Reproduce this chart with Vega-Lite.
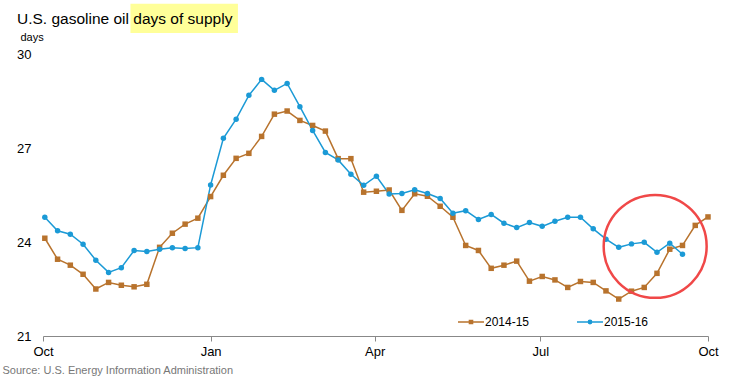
{
  "$schema": "https://vega.github.io/schema/vega-lite/v6.json",
  "width": 665,
  "height": 282,
  "autosize": {"type": "none"},
  "padding": {"left": 43, "top": 54, "right": 26, "bottom": 47},
  "background": "white",
  "config": {"font": "Liberation Sans", "view": {"stroke": null}},
  "title": {
    "text": "U.S. gasoline oil days of supply",
    "anchor": "start",
    "frame": "group",
    "dx": -26,
    "offset": -36,
    "baseline": "alphabetic",
    "fontSize": 15.5,
    "fontWeight": "normal",
    "color": "#000000"
  },
  "data": {
    "values": [
      {"week": "2014-10-02", "season": "2014-15", "days": 24.12},
      {"week": "2014-10-09", "season": "2014-15", "days": 23.45},
      {"week": "2014-10-16", "season": "2014-15", "days": 23.26},
      {"week": "2014-10-23", "season": "2014-15", "days": 22.97},
      {"week": "2014-10-30", "season": "2014-15", "days": 22.50},
      {"week": "2014-11-06", "season": "2014-15", "days": 22.71},
      {"week": "2014-11-13", "season": "2014-15", "days": 22.62},
      {"week": "2014-11-20", "season": "2014-15", "days": 22.57},
      {"week": "2014-11-27", "season": "2014-15", "days": 22.65},
      {"week": "2014-12-04", "season": "2014-15", "days": 23.83},
      {"week": "2014-12-11", "season": "2014-15", "days": 24.28},
      {"week": "2014-12-18", "season": "2014-15", "days": 24.57},
      {"week": "2014-12-25", "season": "2014-15", "days": 24.76},
      {"week": "2015-01-01", "season": "2014-15", "days": 25.45},
      {"week": "2015-01-08", "season": "2014-15", "days": 26.13},
      {"week": "2015-01-15", "season": "2014-15", "days": 26.67},
      {"week": "2015-01-22", "season": "2014-15", "days": 26.83},
      {"week": "2015-01-29", "season": "2014-15", "days": 27.37},
      {"week": "2015-02-05", "season": "2014-15", "days": 28.08},
      {"week": "2015-02-12", "season": "2014-15", "days": 28.18},
      {"week": "2015-02-19", "season": "2014-15", "days": 27.88},
      {"week": "2015-02-26", "season": "2014-15", "days": 27.72},
      {"week": "2015-03-05", "season": "2014-15", "days": 27.54},
      {"week": "2015-03-12", "season": "2014-15", "days": 26.66},
      {"week": "2015-03-19", "season": "2014-15", "days": 26.66},
      {"week": "2015-03-26", "season": "2014-15", "days": 25.59},
      {"week": "2015-04-02", "season": "2014-15", "days": 25.62},
      {"week": "2015-04-09", "season": "2014-15", "days": 25.66},
      {"week": "2015-04-16", "season": "2014-15", "days": 25.01},
      {"week": "2015-04-23", "season": "2014-15", "days": 25.54},
      {"week": "2015-04-30", "season": "2014-15", "days": 25.46},
      {"week": "2015-05-07", "season": "2014-15", "days": 25.14},
      {"week": "2015-05-14", "season": "2014-15", "days": 24.79},
      {"week": "2015-05-21", "season": "2014-15", "days": 23.89},
      {"week": "2015-05-28", "season": "2014-15", "days": 23.73},
      {"week": "2015-06-04", "season": "2014-15", "days": 23.16},
      {"week": "2015-06-11", "season": "2014-15", "days": 23.26},
      {"week": "2015-06-18", "season": "2014-15", "days": 23.39},
      {"week": "2015-06-25", "season": "2014-15", "days": 22.75},
      {"week": "2015-07-02", "season": "2014-15", "days": 22.90},
      {"week": "2015-07-09", "season": "2014-15", "days": 22.79},
      {"week": "2015-07-16", "season": "2014-15", "days": 22.55},
      {"week": "2015-07-23", "season": "2014-15", "days": 22.74},
      {"week": "2015-07-30", "season": "2014-15", "days": 22.71},
      {"week": "2015-08-06", "season": "2014-15", "days": 22.44},
      {"week": "2015-08-13", "season": "2014-15", "days": 22.18},
      {"week": "2015-08-20", "season": "2014-15", "days": 22.43},
      {"week": "2015-08-27", "season": "2014-15", "days": 22.55},
      {"week": "2015-09-03", "season": "2014-15", "days": 23.00},
      {"week": "2015-09-10", "season": "2014-15", "days": 23.77},
      {"week": "2015-09-17", "season": "2014-15", "days": 23.89},
      {"week": "2015-09-24", "season": "2014-15", "days": 24.53},
      {"week": "2015-10-01", "season": "2014-15", "days": 24.80},
      {"week": "2014-10-02", "season": "2015-16", "days": 24.79},
      {"week": "2014-10-09", "season": "2015-16", "days": 24.36},
      {"week": "2014-10-16", "season": "2015-16", "days": 24.25},
      {"week": "2014-10-23", "season": "2015-16", "days": 23.93},
      {"week": "2014-10-30", "season": "2015-16", "days": 23.42},
      {"week": "2014-11-06", "season": "2015-16", "days": 23.03},
      {"week": "2014-11-13", "season": "2015-16", "days": 23.18},
      {"week": "2014-11-20", "season": "2015-16", "days": 23.73},
      {"week": "2014-11-27", "season": "2015-16", "days": 23.70},
      {"week": "2014-12-04", "season": "2015-16", "days": 23.77},
      {"week": "2014-12-11", "season": "2015-16", "days": 23.82},
      {"week": "2014-12-18", "season": "2015-16", "days": 23.79},
      {"week": "2014-12-25", "season": "2015-16", "days": 23.82},
      {"week": "2015-01-01", "season": "2015-16", "days": 25.82},
      {"week": "2015-01-08", "season": "2015-16", "days": 27.31},
      {"week": "2015-01-15", "season": "2015-16", "days": 27.92},
      {"week": "2015-01-22", "season": "2015-16", "days": 28.68},
      {"week": "2015-01-29", "season": "2015-16", "days": 29.19},
      {"week": "2015-02-05", "season": "2015-16", "days": 28.84},
      {"week": "2015-02-12", "season": "2015-16", "days": 29.06},
      {"week": "2015-02-19", "season": "2015-16", "days": 28.32},
      {"week": "2015-02-26", "season": "2015-16", "days": 27.56},
      {"week": "2015-03-05", "season": "2015-16", "days": 26.86},
      {"week": "2015-03-12", "season": "2015-16", "days": 26.62},
      {"week": "2015-03-19", "season": "2015-16", "days": 26.16},
      {"week": "2015-03-26", "season": "2015-16", "days": 25.81},
      {"week": "2015-04-02", "season": "2015-16", "days": 26.10},
      {"week": "2015-04-09", "season": "2015-16", "days": 25.53},
      {"week": "2015-04-16", "season": "2015-16", "days": 25.55},
      {"week": "2015-04-23", "season": "2015-16", "days": 25.67},
      {"week": "2015-04-30", "season": "2015-16", "days": 25.55},
      {"week": "2015-05-07", "season": "2015-16", "days": 25.39},
      {"week": "2015-05-14", "season": "2015-16", "days": 24.92},
      {"week": "2015-05-21", "season": "2015-16", "days": 25.00},
      {"week": "2015-05-28", "season": "2015-16", "days": 24.72},
      {"week": "2015-06-04", "season": "2015-16", "days": 24.88},
      {"week": "2015-06-11", "season": "2015-16", "days": 24.60},
      {"week": "2015-06-18", "season": "2015-16", "days": 24.46},
      {"week": "2015-06-25", "season": "2015-16", "days": 24.62},
      {"week": "2015-07-02", "season": "2015-16", "days": 24.50},
      {"week": "2015-07-09", "season": "2015-16", "days": 24.66},
      {"week": "2015-07-16", "season": "2015-16", "days": 24.79},
      {"week": "2015-07-23", "season": "2015-16", "days": 24.79},
      {"week": "2015-07-30", "season": "2015-16", "days": 24.42},
      {"week": "2015-08-06", "season": "2015-16", "days": 24.09},
      {"week": "2015-08-13", "season": "2015-16", "days": 23.83},
      {"week": "2015-08-20", "season": "2015-16", "days": 23.94},
      {"week": "2015-08-27", "season": "2015-16", "days": 23.99},
      {"week": "2015-09-03", "season": "2015-16", "days": 23.67},
      {"week": "2015-09-10", "season": "2015-16", "days": 23.96},
      {"week": "2015-09-17", "season": "2015-16", "days": 23.61}
    ]
  },
  "layer": [
    {
      "data": {"values": [{}]},
      "mark": {"type": "rect", "color": "#FFFF99"},
      "encoding": {
        "x": {"datum": {"year": 2014, "month": "nov", "date": 18, "utc": true}, "type": "temporal"},
        "x2": {"datum": {"year": 2015, "month": "jan", "date": 16, "utc": true}},
        "y": {"datum": 31.6, "type": "quantitative"},
        "y2": {"datum": 30.67}
      }
    },
    {
      "mark": {"type": "line", "strokeWidth": 1.5},
      "encoding": {
        "x": {
          "field": "week",
          "type": "temporal",
          "scale": {
            "type": "utc",
            "domain": [
              {"year": 2014, "month": "oct", "date": 1, "utc": true},
              {"year": 2015, "month": "oct", "date": 1, "utc": true}
            ]
          },
          "axis": {
            "values": [
              {"year": 2014, "month": "oct", "date": 1, "utc": true},
              {"year": 2015, "month": "jan", "date": 1, "utc": true},
              {"year": 2015, "month": "apr", "date": 1, "utc": true},
              {"year": 2015, "month": "jul", "date": 1, "utc": true},
              {"year": 2015, "month": "oct", "date": 1, "utc": true}
            ],
            "labelExpr": "utcFormat(datum.value, '%b')",
            "labelFontSize": 13,
            "labelColor": "#000000",
            "labelPadding": 4,
            "labelFlush": false,
            "labelOverlap": false,
            "tickSize": 5,
            "tickColor": "#888888",
            "domainColor": "#888888",
            "grid": false,
            "title": "Source: U.S. Energy Information Administration",
            "titleAnchor": "start",
            "titleAlign": "left",
            "titleBaseline": "alphabetic",
            "titleX": -41,
            "titleY": 37,
            "titleFontSize": 11,
            "titleFontWeight": "normal",
            "titleColor": "#777777"
          }
        },
        "y": {
          "field": "days",
          "type": "quantitative",
          "scale": {"domain": [21, 30], "nice": false, "zero": false},
          "axis": {
            "values": [21, 24, 27, 30],
            "title": "days",
            "titleAngle": 0,
            "titleAlign": "left",
            "titleBaseline": "alphabetic",
            "titleX": -23,
            "titleY": -14,
            "titleFontSize": 11,
            "titleFontWeight": "normal",
            "titleColor": "#000000",
            "labelFontSize": 13,
            "labelColor": "#000000",
            "labelPadding": 12,
            "domain": false,
            "ticks": false,
            "gridColor": "#BBBBBB",
            "gridDash": [1, 2],
            "gridWidth": 1
          }
        },
        "color": {
          "field": "season",
          "type": "nominal",
          "scale": {"domain": ["2014-15", "2015-16"], "range": ["#B8732D", "#1B9AD6"]},
          "legend": {
            "title": null,
            "orient": "none",
            "legendX": 414,
            "legendY": 254,
            "direction": "horizontal",
            "padding": 0,
            "columnPadding": 44,
            "labelOffset": 0,
            "labelFontSize": 12,
            "labelColor": "#000000",
            "symbolType": "M-1,0L1,0M-0.12,-0.12L0.12,-0.12L0.12,0.12L-0.12,0.12Z",
            "symbolSize": 676,
            "symbolStrokeWidth": 1.5,
            "encode": {
              "symbols": {
                "update": {
                  "shape": {"signal": "datum.value === '2014-15' ? 'M-1,0L1,0M-0.12,-0.12L0.12,-0.12L0.12,0.12L-0.12,0.12Z' : 'M-1,0L1,0M-0.13,0A0.13,0.13,0,1,1,0.13,0A0.13,0.13,0,1,1,-0.13,0Z'"},
                  "stroke": {"signal": "datum.value === '2014-15' ? '#B8732D' : '#1B9AD6'"},
                  "fill": {"signal": "datum.value === '2014-15' ? '#B8732D' : '#1B9AD6'"},
                  "strokeWidth": {"value": 1.5}
                }
              }
            }
          }
        }
      }
    },
    {
      "transform": [{"filter": "datum.season === '2014-15'"}],
      "mark": {"type": "point", "shape": "square", "filled": true, "opacity": 1, "size": 30, "color": "#B8732D"},
      "encoding": {
        "x": {"field": "week", "type": "temporal"},
        "y": {"field": "days", "type": "quantitative"}
      }
    },
    {
      "transform": [{"filter": "datum.season === '2015-16'"}],
      "mark": {"type": "point", "shape": "circle", "filled": true, "opacity": 1, "size": 30, "color": "#1B9AD6"},
      "encoding": {
        "x": {"field": "week", "type": "temporal"},
        "y": {"field": "days", "type": "quantitative"}
      }
    },
    {
      "data": {"values": [{}]},
      "mark": {"type": "point", "shape": "circle", "filled": false, "stroke": "#F04848", "strokeWidth": 2.5, "opacity": 1, "size": 10600},
      "encoding": {
        "x": {"datum": {"year": 2015, "month": "sep", "date": 2, "utc": true}, "type": "temporal"},
        "y": {"datum": 23.86, "type": "quantitative"}
      }
    }
  ]
}
